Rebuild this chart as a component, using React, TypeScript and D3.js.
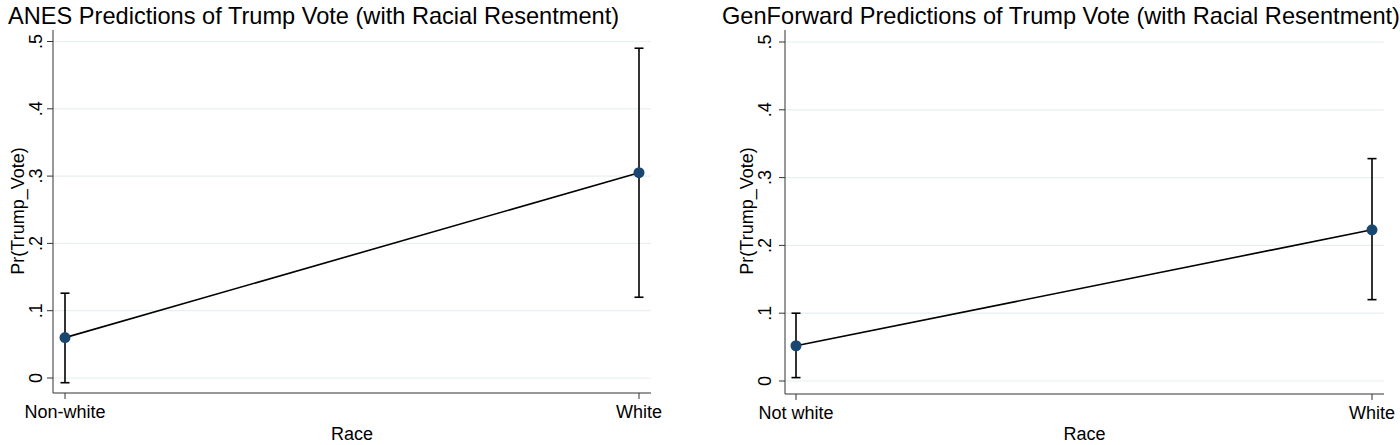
import React, { useEffect, useRef } from 'react';
import * as d3 from 'd3';

// ANES panel
const anesCategories = ['Non-white', 'White'];
const anesEstimate = [0.06, 0.305];
const anesLower = [-0.007, 0.12];
const anesUpper = [0.126, 0.49];

// GenForward panel
const genCategories = ['Not white', 'White'];
const genEstimate = [0.052, 0.223];
const genLower = [0.005, 0.12];
const genUpper = [0.1, 0.328];

const yTicks = [0, 0.1, 0.2, 0.3, 0.4, 0.5];
const yTickLabels = ['0', '.1', '.2', '.3', '.4', '.5'];

const FONT = '"Liberation Sans", Arial, Helvetica, sans-serif';
const NAVY = '#1a476f';
const GRID = '#e7eff1';

interface PanelSpec {
    title: string;
    categories: string[];
    est: number[];
    lo: number[];
    hi: number[];
    axisX: number;      // x of y-axis line
    rightX: number;     // right end of plot area
    cat0X: number;      // x of first category
    cat1X: number;      // x of second category
    y0: number;         // pixel for value 0
    y5: number;         // pixel for value .5
    bottomY: number;    // x-axis line
    topY: number;       // y-axis top
    titleX: number;
    yLabelX: number;
    tickLabelX: number;
}

const panels: PanelSpec[] = [
    {
        title: 'ANES Predictions of Trump Vote (with Racial Resentment)',
        categories: anesCategories, est: anesEstimate, lo: anesLower, hi: anesUpper,
        axisX: 53, rightX: 651, cat0X: 65, cat1X: 639,
        y0: 378, y5: 41.5, bottomY: 393, topY: 30,
        titleX: 8, yLabelX: 24, tickLabelX: 42,
    },
    {
        title: 'GenForward Predictions of Trump Vote (with Racial Resentment)',
        categories: genCategories, est: genEstimate, lo: genLower, hi: genUpper,
        axisX: 785, rightX: 1384, cat0X: 796, cat1X: 1372,
        y0: 381, y5: 42, bottomY: 394, topY: 30,
        titleX: 722, yLabelX: 753, tickLabelX: 771,
    },
];

const App: React.FC = () => {
    const svgRef = useRef<SVGSVGElement>(null);

    useEffect(() => {
        if (!svgRef.current) return;
        const svg = d3.select(svgRef.current);
        svg.selectAll('*').remove();

        svg.append('rect').attr('width', 1400).attr('height', 445).attr('fill', '#fff');

        panels.forEach(p => {
            const g = svg.append('g');
            const y = d3.scaleLinear().domain([0, 0.5]).range([p.y0, p.y5]);
            const x = d3.scalePoint<string>().domain(p.categories).range([p.cat0X, p.cat1X]);

            // Title
            g.append('text')
                .attr('x', p.titleX).attr('y', 24)
                .style('font-family', FONT).style('font-size', '23.6px')
                .attr('fill', '#000')
                .text(p.title);

            // Grid lines
            g.selectAll('.grid').data(yTicks).enter().append('line')
                .attr('x1', p.axisX).attr('x2', p.rightX)
                .attr('y1', d => y(d)).attr('y2', d => y(d))
                .attr('stroke', GRID).attr('stroke-width', 1.2);

            // Axes
            g.append('line')
                .attr('x1', p.axisX).attr('x2', p.axisX)
                .attr('y1', p.topY).attr('y2', p.bottomY)
                .attr('stroke', '#333').attr('stroke-width', 1);
            g.append('line')
                .attr('x1', p.axisX).attr('x2', p.rightX)
                .attr('y1', p.bottomY).attr('y2', p.bottomY)
                .attr('stroke', '#333').attr('stroke-width', 1);

            // Y ticks
            g.selectAll('.ytick').data(yTicks).enter().append('line')
                .attr('x1', p.axisX - 6).attr('x2', p.axisX)
                .attr('y1', d => y(d)).attr('y2', d => y(d))
                .attr('stroke', '#333').attr('stroke-width', 1);
            g.selectAll('.ylab').data(yTicks).enter().append('text')
                .attr('transform', d => `translate(${p.tickLabelX},${y(d)}) rotate(-90)`)
                .attr('text-anchor', 'middle')
                .style('font-family', FONT).style('font-size', '18px')
                .text((_, i) => yTickLabels[i]);

            // Y title
            g.append('text')
                .attr('transform', `translate(${p.yLabelX},211) rotate(-90)`)
                .attr('text-anchor', 'middle')
                .style('font-family', FONT).style('font-size', '18px')
                .text('Pr(Trump_Vote)');

            // X ticks + labels
            g.selectAll('.xtick').data(p.categories).enter().append('line')
                .attr('x1', d => x(d)!).attr('x2', d => x(d)!)
                .attr('y1', p.bottomY).attr('y2', p.bottomY + 6)
                .attr('stroke', '#333').attr('stroke-width', 1);
            g.selectAll('.xlab').data(p.categories).enter().append('text')
                .attr('x', d => x(d)!).attr('y', p.bottomY + 25)
                .attr('text-anchor', 'middle')
                .style('font-family', FONT).style('font-size', '18px')
                .text(d => d);

            g.append('text')
                .attr('x', (p.axisX + p.rightX) / 2).attr('y', 440)
                .attr('text-anchor', 'middle')
                .style('font-family', FONT).style('font-size', '18px')
                .text('Race');

            // Error bars
            const capW = 9;
            p.categories.forEach((c, i) => {
                const cx = x(c)!;
                g.append('line')
                    .attr('x1', cx).attr('x2', cx)
                    .attr('y1', y(p.lo[i])).attr('y2', y(p.hi[i]))
                    .attr('stroke', '#000').attr('stroke-width', 1.6);
                [p.lo[i], p.hi[i]].forEach(v => {
                    g.append('line')
                        .attr('x1', cx - capW / 2).attr('x2', cx + capW / 2)
                        .attr('y1', y(v)).attr('y2', y(v))
                        .attr('stroke', '#000').attr('stroke-width', 1.6);
                });
            });

            // Connecting line
            const line = d3.line<number>()
                .x((_, i) => x(p.categories[i])!)
                .y(d => y(d));
            g.append('path')
                .datum(p.est)
                .attr('d', line)
                .attr('fill', 'none')
                .attr('stroke', '#000').attr('stroke-width', 1.6);

            // Points
            g.selectAll('.pt').data(p.est).enter().append('circle')
                .attr('cx', (_, i) => x(p.categories[i])!)
                .attr('cy', d => y(d))
                .attr('r', 5.5)
                .attr('fill', NAVY);
        });
    }, []);

    return (
        <svg ref={svgRef} width={1400} height={445}
            style={{ position: 'absolute', left: 0, top: 0, display: 'block' }} />
    );
};

export default App;
